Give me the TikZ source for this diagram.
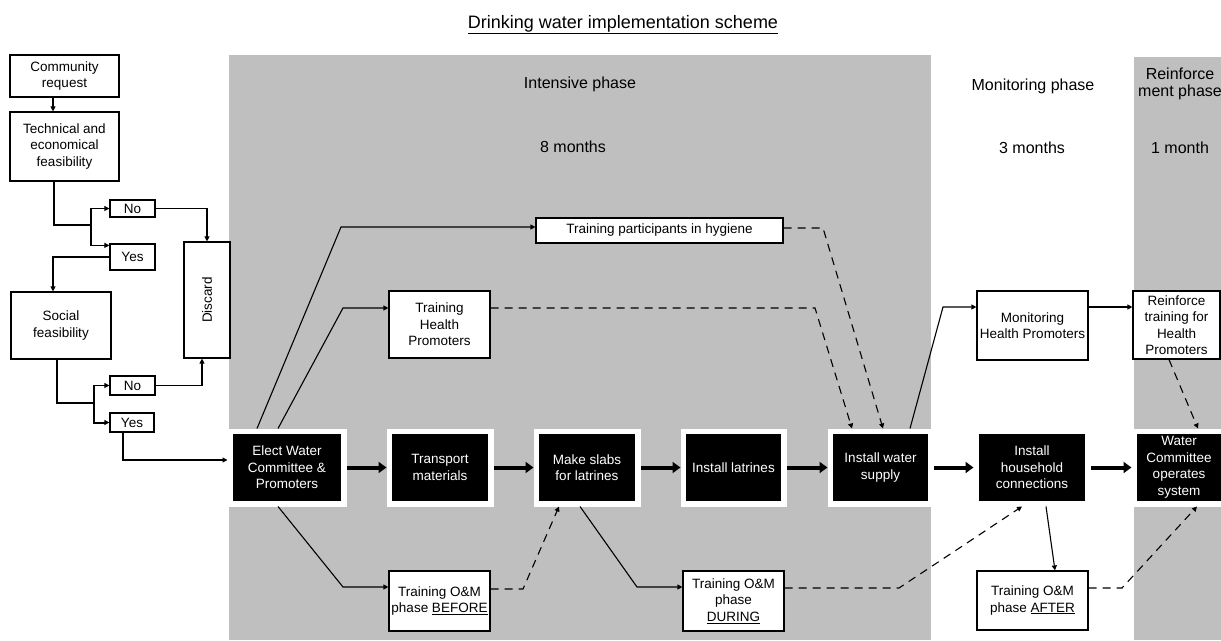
\documentclass[tikz,border=0pt]{standalone}
\usepackage{fontspec}
\usepackage{graphicx}
\setmainfont{Liberation Sans}
\usetikzlibrary{arrows.meta}
\newcommand{\boxfont}{\fontsize{13.5}{16.5}\selectfont}
\newcommand{\headfont}{\fontsize{16}{16.5}\selectfont}
\tikzset{
	phase/.style={fill=gray!50},
	wbox/.style={draw,fill=white,line width=1.2pt,align=center,inner sep=1pt,font=\boxfont},
	bbox/.style={draw=white,fill=black,line width=5.5pt,text=white,align=center,inner sep=1pt,font=\boxfont},
	head/.style={align=center,inner sep=0pt,font=\headfont},
	arr/.style={line width=1.1pt,-{Triangle[length=5pt,width=5pt]}},
	dsh/.style={arr,dash pattern=on 8pt off 6pt},
	flow/.style={line width=4pt,-{Triangle[length=8pt,width=11pt]}}
}
\newcommand{\wb}[5]{\node[wbox,minimum width=#3,minimum height=#4] (#1) at (#2) {#5};}% name, pos, w, h, text
\newcommand{\bb}[5]{\node[bbox,minimum width=#3+5.5,minimum height=#4+5.5] (#1) at (#2) {#5};}
\begin{document}
\begin{tikzpicture}[x=1pt,y=-1pt]
	\useasboundingbox (0,0) rectangle (1221,640);
	\clip (0,0) rectangle (1221,640);
	
	% Phase backgrounds
	\fill[phase] (229,55) rectangle (931,640);
	\fill[phase] (1134,57) rectangle (1221,640);
	
	% Titles
	\node[anchor=base,inner sep=0pt,font=\fontsize{18}{18}\selectfont] (title) at (623,28) {\underline{Drinking water implementation scheme}};
	\node[head] (hint) at (580,84) {Intensive phase};
	\node[head] (tint) at (573,147) {8 months};
	\node[head] (hmon) at (1033,86) {Monitoring phase};
	\node[head] (tmon) at (1032,148) {3 months};
	\node[head] (hrei) at (1180,84) {Reinforce\\ment phase};
	\node[head] (trei) at (1180,148) {1 month};
	
	% Feasibility checks
	\wb{comm}{64.5,76}{109}{42}{Community\\request}
	\wb{tech}{64.5,146.5}{109}{69}{Technical and\\economical\\feasibility}
	\wb{no1}{132.5,208.5}{45}{17}{No}
	\wb{yes1}{132.5,257}{45}{26}{Yes}
	\wb{disc}{207,300}{46}{116}{\rotatebox{90}{Discard}}
	\wb{soc}{61,325.5}{100}{67}{Social\\feasibility}
	\wb{no2}{132.5,385.5}{45}{19}{No}
	\wb{yes2}{132,422.5}{44}{19}{Yes}
	
	% Main steps
	\bb{elect}{287,467.5}{108}{67}{Elect Water\\Committee \&\\Promoters}
	\bb{trans}{440,467.5}{96}{67}{Transport\\materials}
	\bb{slabs}{587,467.5}{96}{67}{Make slabs\\for latrines}
	\bb{latr}{733.5,467.5}{95}{67}{Install latrines}
	\bb{wsup}{880.5,467.5}{95}{67}{Install water\\supply}
	\bb{hh}{1032,467.5}{106}{67}{Install\\household\\connections}
	\bb{wc}{1179,467.5}{84}{67}{Water\\Committee\\operates\\system}
	
	% Trainings
	\wb{hyg}{659.5,230.5}{247}{25}{Training participants in hygiene}
	\wb{thp}{439.5,324.5}{101}{67}{Training\\Health\\Promoters}
	\wb{before}{439.5,601}{101}{60}{Training O\&M\\phase \underline{BEFORE}}
	\wb{during}{733.5,601}{101}{60}{Training O\&M\\phase\\\underline{DURING}}
	\wb{after}{1032.5,600.5}{111}{59}{Training O\&M\\phase \underline{AFTER}}
	\wb{mhp}{1032.5,325.5}{111}{69}{Monitoring\\Health Promoters}
	\wb{rtr}{1176.5,325}{87}{68}{Reinforce\\training for\\Health\\Promoters}
	
	% Bend points
	\coordinate (j1) at (91,225);
	\coordinate (j2) at (94,403);
	\coordinate (c1) at (341,227);
	\coordinate (c2) at (343,308);
	\coordinate (c3) at (343,587);
	\coordinate (c4) at (523,589);
	\coordinate (c5) at (637,587);
	\coordinate (c6) at (899,588);
	\coordinate (c7) at (1122,588);
	\coordinate (c8) at (823,228);
	\coordinate (c9) at (815,308);
	\coordinate (c10) at (943,307);
	
	% Left flow
	\draw[arr] ([xshift=-11.5pt]comm.south) -- ([xshift=-11.5pt]tech.north);
	\draw[line width=1.1pt] ([xshift=-10.5pt]tech.south) |- (j1);
	\draw[arr] (j1) |- (no1);
	\draw[arr] (j1) |- ([yshift=-2pt]yes1.north west);
	\draw[arr] (no1) -| (disc);
	\draw[arr] (yes1.west) -| ([xshift=-8pt]soc.north);
	\draw[line width=1.1pt] ([xshift=-4pt]soc.south) |- (j2);
	\draw[arr] (j2) |- (no2);
	\draw[arr,line width=2pt] (j2) |- (yes2);
	\draw[arr] (no2) -| ([xshift=-5pt]disc.south);
	\draw[arr] ([xshift=-9pt]yes2.south) |- ([yshift=7.5pt]elect.west);
	
	% Main line
	\foreach \a/\b in {elect/trans,trans/slabs,slabs/latr,latr/wsup,wsup/hh,hh/wc}
		\draw[flow] (\a) -- (\b);
	
	% Branches
	\draw[arr] ([xshift=-30pt]elect.north) -- (c1) -- (c1 -| hyg.west);
	\draw[arr] ([xshift=-9pt]elect.north) -- (c2) -- (c2 -| thp.west);
	\draw[arr] ([xshift=-9pt]elect.south) -- (c3) -- (c3 -| before.west);
	\draw[dsh] (c4 -| before.east) -- (c4) -- ([xshift=-28pt]slabs.south);
	\draw[arr] ([xshift=-7pt]slabs.south) -- (c5) -- (c5 -| during.west);
	\draw[dsh] (c6 -| during.east) -- (c6) -- ([xshift=-10pt]hh.south);
	\draw[arr] ([xshift=14pt]hh.south) -- ([xshift=22.5pt]after.north);
	\draw[dsh] (c7 -| after.east) -- (c7) -- ([xshift=18pt]wc.south);
	\draw[dsh] (c8 -| hyg.east) -- (c8) -- ([xshift=2.5pt]wsup.north);
	\draw[dsh] (c9 -| thp.east) -- (c9) -- ([xshift=-28.5pt]wsup.north);
	\draw[arr] ([xshift=29.5pt]wsup.north) -- (c10) -- (c10 -| mhp.west);
	\draw[arr] (c10 -| mhp.east) -- (c10 -| rtr.west);
	\draw[dsh] ([xshift=-7.5pt]rtr.south) -- ([xshift=19pt]wc.north);
\end{tikzpicture}
\end{document}
